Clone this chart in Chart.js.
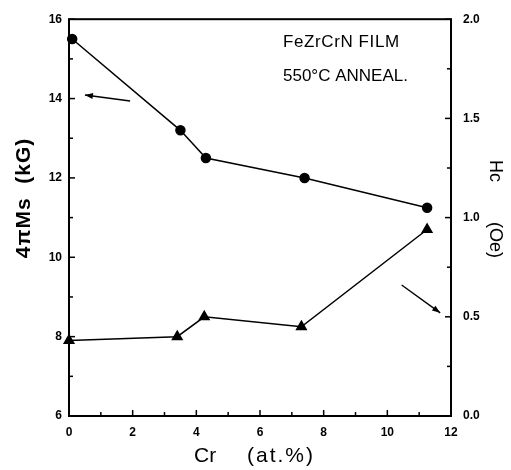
<!DOCTYPE html>
<html>
<head>
<meta charset="utf-8">
<script src="https://cdn.jsdelivr.net/npm/chart.js@4.4.1/dist/chart.umd.min.js"></script>
<style>
  html, body { margin: 0; padding: 0; background: #fff; }
  #wrap { width: 511px; height: 470px; }
</style>
</head>
<body>
<div id="wrap"><canvas id="chart" width="511" height="470"></canvas></div>
<script>
// Cr content (at.%) and measured values
const crMs = [0.1, 3.5, 4.3, 7.4, 11.25];
const msValues = [15.5, 13.2, 12.5, 12.0, 11.25];   // 4πMs (kG)
const crHc = [0.0, 3.4, 4.25, 7.3, 11.25];
const hcValues = [0.38, 0.40, 0.50, 0.45, 0.94];    // Hc (Oe)

// tick values
const xMajor = [0, 2, 4, 6, 8, 10, 12];
const xMinor = [1, 3, 5, 7, 9, 11];
const msMajor = [6, 8, 10, 12, 14, 16];
const msMinor = [7, 9, 11, 13, 15];
const hcMajor = [0.0, 0.5, 1.0, 1.5, 2.0];
const hcMinor = [0.25, 0.75, 1.25, 1.75];

// annotation text
const noteLines = ["FeZrCrN FILM", "550\u00B0C ANNEAL."];

const FONT = '"Liberation Sans", Arial, sans-serif';

//Draw frame, inward ticks, arrows and titles
const decorPlugin = {
    id: 'decor',
    afterDraw(chart) {
        const ctx = chart.ctx;
        const a = chart.chartArea;
        const sx = chart.scales.x, sy = chart.scales.y, sy2 = chart.scales.y2;
        ctx.save();
        ctx.strokeStyle = '#000';
        ctx.fillStyle = '#000';

        //Frame
        ctx.lineWidth = 2;
        ctx.strokeRect(a.left, a.top, a.right - a.left, a.bottom - a.top);

        //Ticks pointing inward
        ctx.lineWidth = 1.5;
        function tick(x1, y1, x2, y2) {
            ctx.beginPath(); ctx.moveTo(x1, y1); ctx.lineTo(x2, y2); ctx.stroke();
        }
        xMajor.forEach(v => { const p = sx.getPixelForValue(v); tick(p, a.bottom, p, a.bottom - 6); });
        xMinor.forEach(v => { const p = sx.getPixelForValue(v); tick(p, a.bottom, p, a.bottom - 4); });
        msMajor.forEach(v => { const p = sy.getPixelForValue(v); tick(a.left, p, a.left + 6, p); });
        msMinor.forEach(v => { const p = sy.getPixelForValue(v); tick(a.left, p, a.left + 4, p); });
        hcMajor.forEach(v => { const p = sy2.getPixelForValue(v); tick(a.right, p, a.right - 6, p); });
        hcMinor.forEach(v => { const p = sy2.getPixelForValue(v); tick(a.right, p, a.right - 4, p); });

        //Arrows pointing to the axis of each curve
        function arrow(x1, y1, x2, y2) {
            ctx.lineWidth = 1.4;
            ctx.beginPath(); ctx.moveTo(x1, y1); ctx.lineTo(x2, y2); ctx.stroke();
            const ang = Math.atan2(y2 - y1, x2 - x1);
            const len = 8, w = 3;
            ctx.beginPath();
            ctx.moveTo(x2, y2);
            ctx.lineTo(x2 - len * Math.cos(ang) + w * Math.sin(ang), y2 - len * Math.sin(ang) - w * Math.cos(ang));
            ctx.lineTo(x2 - len * Math.cos(ang) - w * Math.sin(ang), y2 - len * Math.sin(ang) + w * Math.cos(ang));
            ctx.closePath();
            ctx.fill();
        }
        arrow(sx.getPixelForValue(1.92), sy.getPixelForValue(13.94),
              sx.getPixelForValue(0.5), sy.getPixelForValue(14.09));
        arrow(sx.getPixelForValue(10.45), sy2.getPixelForValue(0.66),
              sx.getPixelForValue(11.66), sy2.getPixelForValue(0.52));

        //Annotation text
        ctx.font = '17px ' + FONT;
        ctx.textAlign = 'left';
        ctx.textBaseline = 'alphabetic';
        ctx.letterSpacing = '0.6px';
        ctx.fillText(noteLines[0], 283, 47);
        ctx.letterSpacing = '0px';
        ctx.fillText(noteLines[1], 283, 81);

        //Left axis title
        ctx.save();
        ctx.translate(30, 198);
        ctx.rotate(-Math.PI / 2);
        ctx.font = 'bold 21px ' + FONT;
        ctx.textAlign = 'center';
        ctx.letterSpacing = '1px';
        ctx.fillText('4\u03C0Ms  (kG)', 0, 0);
        ctx.restore();

        //Right axis title
        ctx.save();
        ctx.translate(490, 211);
        ctx.rotate(Math.PI / 2);
        ctx.font = '18px ' + FONT;
        ctx.textAlign = 'left';
        ctx.fillText('Hc', -51, 0);
        ctx.fillText('(Oe)', 11, 0);
        ctx.restore();

        //X axis title
        ctx.font = '21px ' + FONT;
        ctx.textAlign = 'left';
        ctx.fillText('Cr', 194, 462);
        ctx.letterSpacing = '2px';
        ctx.fillText('(at.%)', 247, 462);
        ctx.restore();
    }
};

const msData = crMs.map((x, i) => ({ x: x, y: msValues[i] }));
const hcData = crHc.map((x, i) => ({ x: x, y: hcValues[i] }));

new Chart(document.getElementById('chart'), {
    type: 'line',
    data: {
        datasets: [
            {
                label: '4πMs',
                data: msData,
                yAxisID: 'y',
                borderColor: '#000',
                backgroundColor: '#000',
                borderWidth: 1.5,
                pointStyle: 'circle',
                pointRadius: 4.5,
                tension: 0,
                clip: false
            },
            {
                label: 'Hc',
                data: hcData,
                yAxisID: 'y2',
                borderColor: '#000',
                backgroundColor: '#000',
                borderWidth: 1.5,
                pointStyle: 'triangle',
                pointRadius: 5.5,
                tension: 0,
                clip: false
            }
        ]
    },
    options: {
        responsive: false,
        animation: false,
        devicePixelRatio: 1,
        layout: { padding: { top: 13, left: 0, right: 0, bottom: 0 } },
        plugins: { legend: { display: false }, tooltip: { enabled: false } },
        scales: {
            x: {
                type: 'linear',
                min: 0, max: 12,
                afterFit: s => { s.height = 54; },
                afterBuildTicks: s => { s.ticks = xMajor.map(v => ({ value: v })); },
                grid: { display: false, drawTicks: false },
                border: { display: false },
                ticks: { color: '#000', padding: 9, maxRotation: 0, font: { family: FONT, size: 12, weight: 'bold' } }
            },
            y: {
                position: 'left',
                min: 6, max: 16,
                afterFit: s => { s.width = 69; },
                afterBuildTicks: s => { s.ticks = msMajor.map(v => ({ value: v })); },
                grid: { display: false, drawTicks: false },
                border: { display: false },
                ticks: { color: '#000', padding: 7, font: { family: FONT, size: 12, weight: 'bold' } }
            },
            y2: {
                position: 'right',
                min: 0, max: 2,
                afterFit: s => { s.width = 60; },
                afterBuildTicks: s => { s.ticks = hcMajor.map(v => ({ value: v })); },
                grid: { display: false, drawTicks: false },
                border: { display: false },
                ticks: {
                    color: '#000', padding: 12,
                    font: { family: FONT, size: 12, weight: 'bold' },
                    callback: v => Number(v).toFixed(1)
                }
            }
        }
    },
    plugins: [decorPlugin]
});
</script>
</body>
</html>
